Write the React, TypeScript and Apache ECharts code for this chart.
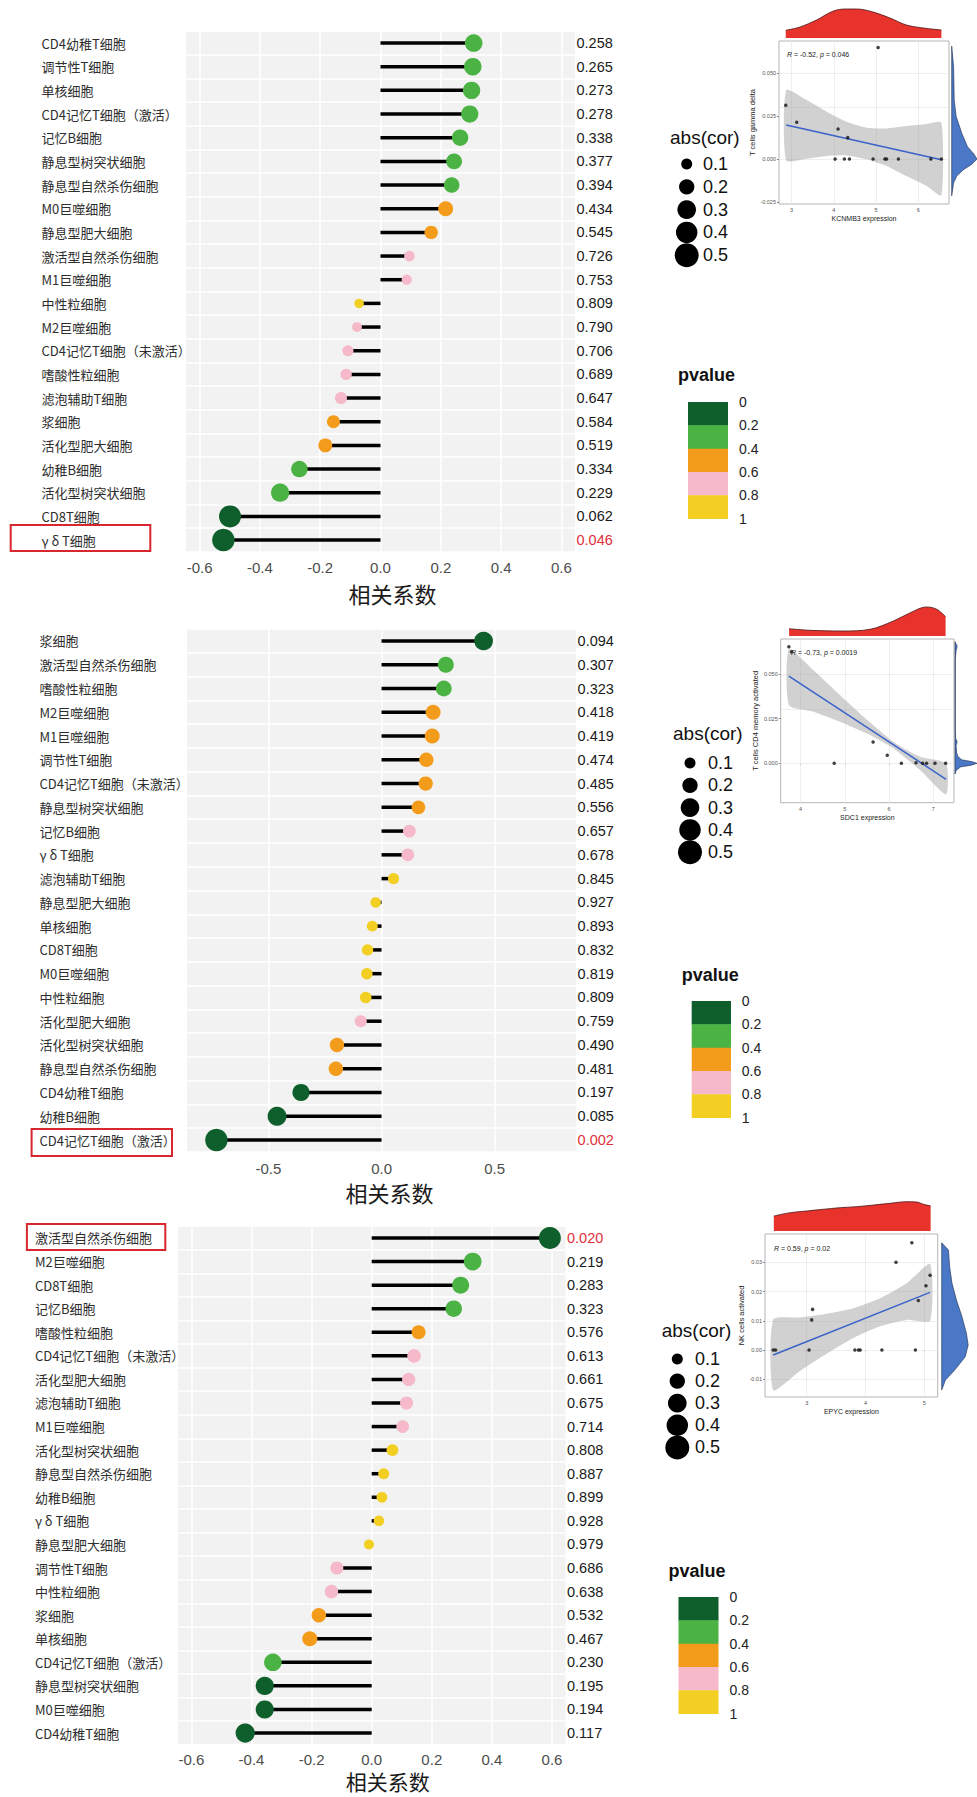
import React, { useEffect, useRef } from "react";
import * as echarts from "echarts";

// ---------------- DATA ----------------
// Panel 1 (KCNMB3)
const P1_CELLS = ["CD4幼稚T细胞", "调节性T细胞", "单核细胞", "CD4记忆T细胞（激活）", "记忆B细胞", "静息型树突状细胞", "静息型自然杀伤细胞", "M0巨噬细胞", "静息型肥大细胞", "激活型自然杀伤细胞", "M1巨噬细胞", "中性粒细胞", "M2巨噬细胞", "CD4记忆T细胞（未激活）", "嗜酸性粒细胞", "滤泡辅助T细胞", "浆细胞", "活化型肥大细胞", "幼稚B细胞", "活化型树突状细胞", "CD8T细胞", "γ δ T细胞"];
const P1_COR = [0.309, 0.306, 0.302, 0.296, 0.264, 0.244, 0.236, 0.216, 0.168, 0.096, 0.087, -0.071, -0.078, -0.108, -0.114, -0.131, -0.156, -0.183, -0.269, -0.333, -0.499, -0.521];
const P1_P = [0.258, 0.265, 0.273, 0.278, 0.338, 0.377, 0.394, 0.434, 0.545, 0.726, 0.753, 0.809, 0.790, 0.706, 0.689, 0.647, 0.584, 0.519, 0.334, 0.229, 0.062, 0.046];
const P1_HIGHLIGHT = "γ δ T细胞";

// Panel 2 (SDC1)
const P2_CELLS = ["浆细胞", "激活型自然杀伤细胞", "嗜酸性粒细胞", "M2巨噬细胞", "M1巨噬细胞", "调节性T细胞", "CD4记忆T细胞（未激活）", "静息型树突状细胞", "记忆B细胞", "γ δ T细胞", "滤泡辅助T细胞", "静息型肥大细胞", "单核细胞", "CD8T细胞", "M0巨噬细胞", "中性粒细胞", "活化型肥大细胞", "活化型树突状细胞", "静息型自然杀伤细胞", "CD4幼稚T细胞", "幼稚B细胞", "CD4记忆T细胞（激活）"];
const P2_COR = [0.451, 0.284, 0.275, 0.228, 0.224, 0.198, 0.195, 0.163, 0.123, 0.116, 0.053, -0.026, -0.041, -0.062, -0.065, -0.070, -0.092, -0.197, -0.202, -0.356, -0.462, -0.73];
const P2_P = [0.094, 0.307, 0.323, 0.418, 0.419, 0.474, 0.485, 0.556, 0.657, 0.678, 0.845, 0.927, 0.893, 0.832, 0.819, 0.809, 0.759, 0.490, 0.481, 0.197, 0.085, 0.002];
const P2_HIGHLIGHT = "CD4记忆T细胞（激活）";

// Panel 3 (EPYC)
const P3_CELLS = ["激活型自然杀伤细胞", "M2巨噬细胞", "CD8T细胞", "记忆B细胞", "嗜酸性粒细胞", "CD4记忆T细胞（未激活）", "活化型肥大细胞", "滤泡辅助T细胞", "M1巨噬细胞", "活化型树突状细胞", "静息型自然杀伤细胞", "幼稚B细胞", "γ δ T细胞", "静息型肥大细胞", "调节性T细胞", "中性粒细胞", "浆细胞", "单核细胞", "CD4记忆T细胞（激活）", "静息型树突状细胞", "M0巨噬细胞", "CD4幼稚T细胞"];
const P3_COR = [0.593, 0.336, 0.296, 0.273, 0.156, 0.141, 0.123, 0.116, 0.103, 0.069, 0.040, 0.034, 0.024, -0.009, -0.116, -0.134, -0.176, -0.206, -0.329, -0.356, -0.356, -0.421];
const P3_P = [0.020, 0.219, 0.283, 0.323, 0.576, 0.613, 0.661, 0.675, 0.714, 0.808, 0.887, 0.899, 0.928, 0.979, 0.686, 0.638, 0.532, 0.467, 0.230, 0.195, 0.194, 0.117];
const P3_HIGHLIGHT = "激活型自然杀伤细胞";

const TICKS_06 = [-0.6, -0.4, -0.2, 0, 0.2, 0.4, 0.6];
const TICKS_05 = [-0.5, 0, 0.5];

// Inset 1: KCNMB3 vs T cells gamma delta
const I1_X = [2.86, 3.12, 4.03, 4.10, 4.25, 4.37, 4.33, 4.93, 5.21, 5.25, 5.53, 6.30, 6.55, 5.05];
const I1_Y = [0.0314, 0.0215, 0, 0.0176, 0, 0, 0.0125, 0, 0, 0, 0, 0, 0, 0.0652];
const I1_FIT_X = [2.87, 6.55];
const I1_FIT_Y = [0.0199, -0.0004];
const I1_BAND_X = [2.87, 3.355, 3.83, 4.30, 4.78, 5.25, 5.72, 6.20, 6.55];
const I1_BAND_LO = [-0.0008, 0.0002, 0.0018, 0.0021, -0.0002, -0.0041, -0.0100, -0.0158, -0.0213];
const I1_BAND_HI = [0.0404, 0.0345, 0.0277, 0.0218, 0.0183, 0.0179, 0.0193, 0.0205, 0.0213];
const I1_TOP_X = [2.86, 3.2, 3.59, 3.99, 4.30, 4.54, 4.93, 5.33, 5.72, 6.12, 6.55];
const I1_TOP_D = [7.7, 11, 18, 27, 29, 29, 26, 20, 13, 10, 8];
const I1_SIDE_Y = [0.066, 0.060, 0.054, 0.045, 0.0345, 0.025, 0.015, 0.0072, 0.003, 0, -0.003, -0.0064, -0.010, -0.014, -0.0215];
const I1_SIDE_D = [0, 1.5, 3, 3.5, 4, 7, 16, 25, 35, 40, 32, 18, 8, 3, 0];
const I1_XTICKS = [3, 4, 5, 6];
const I1_YTICKS = [-0.025, 0, 0.025, 0.05];

// Inset 2: SDC1 vs T cells CD4 memory activated
const I2_X = [3.735, 3.796, 4.76, 5.64, 5.96, 6.28, 6.61, 6.76, 6.85, 7.04, 7.28];
const I2_Y = [0.0652, 0.0624, 0, 0.0119, 0.0045, 0, 0.0003, 0, 0, 0, 0];
const I2_FIT_X = [3.735, 7.29];
const I2_FIT_Y = [0.0488, -0.0089];
const I2_BAND_X = [3.735, 4.286, 4.89, 5.49, 6.095, 6.70, 7.29];
const I2_BAND_LO = [0.0326, 0.0289, 0.0233, 0.0168, 0.0084, -0.0037, -0.0173];
const I2_BAND_HI = [0.0638, 0.0522, 0.0382, 0.0246, 0.0121, 0.0037, 0.0000];
const I2_TOP_X = [3.74, 4.21, 4.96, 5.57, 6.10, 6.47, 6.85, 7.08, 7.28];
const I2_TOP_D = [7.3, 5.7, 5, 6.7, 15, 23, 29, 26.7, 19.3];
const I2_SIDE_Y = [0.068, 0.0655, 0.063, 0.058, 0.04, 0.02, 0.014, 0.012, 0.010, 0.006, 0.004, 0.002, 0.001, 0, -0.001, -0.002, -0.004, -0.006];
const I2_SIDE_D = [0, 4, 2, 0.5, 0.5, 0.5, 1, 4, 2, 3, 5, 12, 30, 40, 30, 10, 2, 0];
const I2_XTICKS = [4, 5, 6, 7];
const I2_YTICKS = [0, 0.025, 0.05];

// Inset 3: EPYC vs NK cells activated
const I3_X = [2.43, 2.47, 3.04, 3.085, 3.10, 3.82, 3.88, 3.91, 4.28, 4.52, 4.79, 4.85, 4.90, 5.03, 5.10];
const I3_Y = [0, 0, 0, 0.0103, 0.0139, 0, 0, 0, 0, 0.030, 0.0367, 0, 0.0169, 0.022, 0.0256];
const I3_FIT_X = [2.43, 5.10];
const I3_FIT_Y = [-0.0017, 0.0197];
const I3_BAND_X = [2.43, 2.886, 3.34, 3.795, 4.25, 4.70, 5.10];
const I3_BAND_LO = [-0.0138, -0.0072, -0.0013, 0.0041, 0.0081, 0.0103, 0.0100];
const I3_BAND_HI = [0.0104, 0.0111, 0.0124, 0.0143, 0.0177, 0.0228, 0.0294];
const I3_TOP_X = [2.44, 2.72, 3.0, 3.28, 3.57, 3.85, 4.14, 4.42, 4.70, 4.87, 4.99, 5.11];
const I3_TOP_D = [15, 18.3, 20, 21.7, 23.3, 24.3, 26, 27.7, 29.3, 29, 26.7, 25];
const I3_SIDE_Y = [0.0367, 0.0342, 0.0285, 0.0228, 0.0171, 0.0114, 0.0057, 0.0017, -0.0023, -0.0068, -0.0103, -0.0137];
const I3_SIDE_D = [0, 7.7, 9, 11.7, 16.7, 23, 28, 30, 26.7, 15, 4.3, 0];
const I3_XTICKS = [3, 4, 5];
const I3_YTICKS = [-0.01, 0, 0.01, 0.02, 0.03];

const SIZE_LEGEND_VALUES = [0.1, 0.2, 0.3, 0.4, 0.5];
const PVALUE_BREAKS = [0, 0.2, 0.4, 0.6, 0.8, 1];

// ---------------- STYLE ----------------
const FONT_SANS = '"Liberation Sans", Arial, Helvetica, sans-serif';
const FONT_CJK = '"Noto Sans CJK SC", "Noto Sans", sans-serif';
const P_COLORS = ["#0e5f2c", "#4bb343", "#f39c1c", "#f5b9c9", "#f2cf22"];
const pColor = (p: number) => P_COLORS[Math.min(4, Math.floor(p / 0.2))];

function buildOption() {
  const grids: any[] = [];
  const xAxes: any[] = [];
  const yAxes: any[] = [];
  const series: any[] = [];
  const graphic: any[] = [];

  const addLolli = (c: any) => {
    const gi = grids.length;
    grids.push({ left: c.left, top: c.top, width: c.width, height: c.height, show: true, backgroundColor: "#f2f2f2", borderWidth: 0 });
    const xi = xAxes.length;
    xAxes.push({
      type: "value", gridIndex: gi, min: c.xMin, max: c.xMax,
      axisLine: { show: false }, axisTick: { show: false }, splitLine: { show: false },
      axisLabel: { customValues: c.ticks, formatter: (v: number) => v.toFixed(1), fontSize: 15, color: "#4d4d4d", fontFamily: FONT_SANS, margin: c.tickMargin },
      name: "相关系数", nameLocation: "middle", nameGap: c.nameGap,
      nameTextStyle: { fontSize: c.nameSize, color: "#1a1a1a", fontFamily: FONT_CJK, padding: [0, 0, 0, c.nameShift * 2] },
    });
    const yi = yAxes.length;
    const hi = c.cells.indexOf(c.highlight);
    yAxes.push({
      type: "category", gridIndex: gi, data: c.cells, inverse: true, position: "left",
      axisLine: { show: false }, axisTick: { show: false },
      splitLine: { show: true, lineStyle: { color: "#ffffff", width: 1.5 } },
      axisLabel: { interval: 0, align: "left", margin: c.labelMargin, fontSize: 13, color: "#2e2e2e", fontFamily: FONT_CJK },
    });
    yAxes.push({
      type: "category", gridIndex: gi, data: c.p.map((v: number) => v.toFixed(3)), inverse: true, position: "right",
      axisLine: { show: false }, axisTick: { show: false }, splitLine: { show: false },
      axisLabel: {
        interval: 0, align: "left", margin: 1.5, fontSize: 14.5, color: "#1a1a1a", fontFamily: FONT_SANS,
        formatter: (v: string, i: number) => (i === hi ? `{r|${v}}` : v),
        rich: { r: { color: "#e0303a", fontSize: 14.5, fontFamily: FONT_SANS } },
      },
    });
    const abs = c.cor.map((v: number) => Math.abs(v));
    const maxA = Math.max(...abs);
    const minA = Math.min(...abs);
    const size = (v: number) => Math.sqrt(c.dMin * c.dMin + (c.dMax * c.dMax - c.dMin * c.dMin) * (Math.abs(v) - minA) / (maxA - minA));
    series.push({
      type: "bar", xAxisIndex: xi, yAxisIndex: yi, data: c.cor, barWidth: 3.5, itemStyle: { color: "#000" }, z: 2, silent: true,
      markLine: { silent: true, z: 1, symbol: ["none", "none"], label: { show: false }, lineStyle: { color: "#ffffff", width: 1.5, type: "solid" }, data: c.ticks.map((t: number) => ({ xAxis: t })) },
    });
    series.push({
      type: "scatter", xAxisIndex: xi, yAxisIndex: yi, z: 3, silent: true,
      data: c.cor.map((v: number, i: number) => ({ value: [v, i], symbolSize: size(v), itemStyle: { color: pColor(c.p[i]), opacity: 1 } })),
    });
    graphic.push({ type: "rect", z: 10, shape: c.box, style: { fill: "transparent", stroke: "#d8262f", lineWidth: 2 } });
  };

  const addInset = (c: any) => {
    const gi = grids.length;
    grids.push({ left: c.left, top: c.top, width: c.width, height: c.height, show: true, backgroundColor: "#ffffff", borderColor: "#b5b5b5", borderWidth: 1 });
    const xi = xAxes.length;
    xAxes.push({
      type: "value", gridIndex: gi, min: c.xMin, max: c.xMax,
      axisLine: { show: false }, splitLine: { show: false },
      axisTick: { show: true, customValues: c.xTicks, length: 2, lineStyle: { color: "#444", width: 0.6 } },
      axisLabel: { customValues: c.xTicks, formatter: (v: number) => String(v), fontSize: 5.5, color: "#555", margin: 3, fontFamily: FONT_SANS },
      name: c.xName, nameLocation: "middle", nameGap: 11, nameTextStyle: { fontSize: 7, color: "#222", fontFamily: FONT_SANS },
    });
    const yi = yAxes.length;
    yAxes.push({
      type: "value", gridIndex: gi, min: c.yMin, max: c.yMax,
      axisLine: { show: false }, splitLine: { show: false },
      axisTick: { show: true, customValues: c.yTicks, length: 2, lineStyle: { color: "#444", width: 0.6 } },
      axisLabel: { customValues: c.yTicks, formatter: (v: number) => v.toFixed(c.yDec), fontSize: 5.5, color: "#555", margin: 3, fontFamily: FONT_SANS },
      name: c.yName, nameLocation: "middle", nameGap: c.yNameGap, nameTextStyle: { fontSize: 7.5, color: "#222", fontFamily: FONT_SANS },
    });
    const bx = c.bandX, lo = c.bandLo, hiB = c.bandHi;
    series.push({
      type: "custom", xAxisIndex: xi, yAxisIndex: yi, z: 2, silent: true,
      data: bx.map((x: number, i: number) => [x, lo[i], hiB[i]]),
      renderItem: (params: any, api: any) => {
        if (params.dataIndex !== 0) return { type: "group", children: [] };
        const pts: number[][] = [];
        for (let i = 0; i < bx.length; i++) pts.push(api.coord([bx[i], hiB[i]]));
        for (let i = bx.length - 1; i >= 0; i--) pts.push(api.coord([bx[i], lo[i]]));
        return { type: "polygon", shape: { points: pts, smooth: 0.2 }, style: { fill: "#9a9a9a", opacity: 0.45 } };
      },
    });
    series.push({
      type: "line", xAxisIndex: xi, yAxisIndex: yi, z: 3, silent: true, symbol: "none",
      data: c.fitX.map((x: number, i: number) => [x, c.fitY[i]]),
      lineStyle: { color: "#3a62c9", width: 1.5 },
      markLine: {
        silent: true, z: 1, symbol: ["none", "none"], label: { show: false },
        lineStyle: { color: "#e6e6e6", width: 0.7, type: "solid" },
        data: [...c.xTicks.map((t: number) => ({ xAxis: t })), ...c.yTicks.map((t: number) => ({ yAxis: t }))],
      },
    });
    series.push({
      type: "scatter", xAxisIndex: xi, yAxisIndex: yi, z: 4, silent: true, symbolSize: 3.5,
      itemStyle: { color: "#111" },
      data: c.x.map((x: number, i: number) => [x, c.y[i]]),
    });
    graphic.push({
      type: "text", x: c.annX, y: c.annY, z: 10,
      style: { text: c.ann, rich: { i: { fontStyle: "italic", fontSize: 7, fontFamily: FONT_SANS, fill: "#222" } }, fontSize: 7, fontFamily: FONT_SANS, fill: "#222", verticalAlign: "middle", align: "left" },
    });

    const gt = grids.length;
    grids.push({ left: c.left, top: c.top - 33, width: c.width, height: 30 });
    const xt = xAxes.length;
    xAxes.push({ type: "value", gridIndex: gt, min: c.xMin, max: c.xMax, show: false });
    const yt = yAxes.length;
    yAxes.push({ type: "value", gridIndex: gt, min: 0, max: 30, show: false });
    series.push({
      type: "line", xAxisIndex: xt, yAxisIndex: yt, silent: true, symbol: "none", smooth: 0.35,
      data: c.topX.map((x: number, i: number) => [x, c.topD[i]]),
      lineStyle: { color: "#4a1414", width: 0.8 },
      areaStyle: { color: "#e8332d", opacity: 1 },
    });

    const gs = grids.length;
    grids.push({ left: c.sideLeft, top: c.top, width: 40, height: c.height });
    const xs = xAxes.length;
    xAxes.push({ type: "value", gridIndex: gs, min: 0, max: 40, show: false });
    const ys = yAxes.length;
    yAxes.push({ type: "value", gridIndex: gs, min: c.yMin, max: c.yMax, show: false });
    const sy = c.sideY, sd = c.sideD;
    series.push({
      type: "custom", xAxisIndex: xs, yAxisIndex: ys, silent: true, clip: false,
      data: sy.map((y: number, i: number) => [sd[i], y]),
      renderItem: (params: any, api: any) => {
        if (params.dataIndex !== 0) return { type: "group", children: [] };
        const pts: number[][] = [api.coord([0, sy[0]])];
        for (let i = 0; i < sy.length; i++) pts.push(api.coord([sd[i], sy[i]]));
        pts.push(api.coord([0, sy[sy.length - 1]]));
        return { type: "polygon", shape: { points: pts }, style: { fill: "#4a78c6", stroke: "#1d2d4d", lineWidth: 0.6 } };
      },
    });
  };

  const addLegend = (L: any) => {
    graphic.push({ type: "text", x: L.absX, y: L.absY, style: { text: "abs(cor)", fontSize: 19, fontFamily: FONT_SANS, fill: "#111", verticalAlign: "middle", align: "left" } });
    SIZE_LEGEND_VALUES.forEach((v, i) => {
      const d = Math.sqrt(7.25 + 1137.5 * v);
      const cy = L.circY0 + i * L.circDy;
      graphic.push({ type: "circle", shape: { cx: L.circX, cy, r: d / 2 }, style: { fill: "#000" } });
      graphic.push({ type: "text", x: L.labX, y: cy, style: { text: String(v), fontSize: 18, fontFamily: FONT_SANS, fill: "#111", verticalAlign: "middle", align: "left" } });
    });
    graphic.push({ type: "text", x: L.pvX, y: L.pvY, style: { text: "pvalue", fontSize: 18, fontWeight: "bold", fontFamily: FONT_SANS, fill: "#111", verticalAlign: "middle", align: "left" } });
    P_COLORS.forEach((col, i) => {
      graphic.push({ type: "rect", shape: { x: L.barX, y: L.barY + i * L.barH, width: L.barW, height: L.barH + 0.3 }, style: { fill: col } });
    });
    PVALUE_BREAKS.forEach((b, i) => {
      graphic.push({ type: "text", x: L.barLabX, y: L.barY + i * L.barH, style: { text: String(b), fontSize: 14, fontFamily: FONT_SANS, fill: "#222", verticalAlign: "middle", align: "left" } });
    });
  };

  addLolli({
    cells: P1_CELLS, cor: P1_COR, p: P1_P, highlight: P1_HIGHLIGHT, ticks: TICKS_06, xMin: -0.645, xMax: 0.645,
    left: 186, top: 31.2, width: 389, height: 520.7, labelMargin: 144.5, tickMargin: 8.5, nameGap: 30, nameSize: 22, nameShift: 12, dMin: 9.5, dMax: 22.5,
    box: { x: 10.7, y: 525, width: 139.6, height: 26 },
  });
  addLolli({
    cells: P2_CELLS, cor: P2_COR, p: P2_P, highlight: P2_HIGHLIGHT, ticks: TICKS_05, xMin: -0.86, xMax: 0.86,
    left: 187, top: 629.1, width: 389.1, height: 522.8, labelMargin: 147.5, tickMargin: 9, nameGap: 29, nameSize: 22, nameShift: 8, dMin: 10.5, dMax: 22.5,
    box: { x: 31.6, y: 1129, width: 140.4, height: 27 },
  });
  addLolli({
    cells: P3_CELLS, cor: P3_COR, p: P3_P, highlight: P3_HIGHLIGHT, ticks: TICKS_06, xMin: -0.645, xMax: 0.645,
    left: 177.9, top: 1226.2, width: 387.6, height: 518.6, labelMargin: 143, tickMargin: 7.5, nameGap: 26, nameSize: 21, nameShift: 16, dMin: 10, dMax: 22,
    box: { x: 26.9, y: 1224, width: 138.4, height: 26 },
  });

  addInset({
    left: 779, top: 41, width: 170, height: 163, sideLeft: 951.7,
    xMin: 2.70, xMax: 6.73, yMin: -0.0263, yMax: 0.069, xTicks: I1_XTICKS, yTicks: I1_YTICKS, yDec: 3,
    xName: "KCNMB3 expression", yName: "T cells gamma delta", yNameGap: 21,
    x: I1_X, y: I1_Y, fitX: I1_FIT_X, fitY: I1_FIT_Y, bandX: I1_BAND_X, bandLo: I1_BAND_LO, bandHi: I1_BAND_HI,
    topX: I1_TOP_X, topD: I1_TOP_D, sideY: I1_SIDE_Y, sideD: I1_SIDE_D,
    ann: "{i|R} = -0.52, {i|p} = 0.046", annX: 787, annY: 54,
  });
  addInset({
    left: 780.7, top: 639, width: 173.3, height: 163.7, sideLeft: 955,
    xMin: 3.55, xMax: 7.47, yMin: -0.022, yMax: 0.0695, xTicks: I2_XTICKS, yTicks: I2_YTICKS, yDec: 3,
    xName: "SDC1 expression", yName: "T cells CD4 memory activated", yNameGap: 21,
    x: I2_X, y: I2_Y, fitX: I2_FIT_X, fitY: I2_FIT_Y, bandX: I2_BAND_X, bandLo: I2_BAND_LO, bandHi: I2_BAND_HI,
    topX: I2_TOP_X, topD: I2_TOP_D, sideY: I2_SIDE_Y, sideD: I2_SIDE_D,
    ann: "{i|R} = -0.73, {i|p} = 0.0019", annX: 791, annY: 652,
  });
  addInset({
    left: 765, top: 1234, width: 172.7, height: 163, sideLeft: 941.7,
    xMin: 2.29, xMax: 5.23, yMin: -0.0161, yMax: 0.0397, xTicks: I3_XTICKS, yTicks: I3_YTICKS, yDec: 2,
    xName: "EPYC expression", yName: "NK cells activated", yNameGap: 19,
    x: I3_X, y: I3_Y, fitX: I3_FIT_X, fitY: I3_FIT_Y, bandX: I3_BAND_X, bandLo: I3_BAND_LO, bandHi: I3_BAND_HI,
    topX: I3_TOP_X, topD: I3_TOP_D, sideY: I3_SIDE_Y, sideD: I3_SIDE_D,
    ann: "{i|R} = 0.59, {i|p} = 0.02", annX: 774, annY: 1248,
  });

  addLegend({ absX: 670, absY: 137, circX: 686.7, circY0: 164, circDy: 22.8, labX: 703, pvX: 678, pvY: 375, barX: 688, barY: 402, barW: 40, barH: 23.33, barLabX: 739 });
  addLegend({ absX: 673, absY: 733, circX: 690, circY0: 763, circDy: 22.3, labX: 708, pvX: 681.7, pvY: 975, barX: 691.7, barY: 1001, barW: 39.3, barH: 23.33, barLabX: 741.7 });
  addLegend({ absX: 661.7, absY: 1330, circX: 677.3, circY0: 1359, circDy: 22.1, labX: 695, pvX: 668.5, pvY: 1571, barX: 678.5, barY: 1597, barW: 40, barH: 23.33, barLabX: 729.5 });

  return {
    animation: false,
    backgroundColor: "#ffffff",
    grid: grids,
    xAxis: xAxes,
    yAxis: yAxes,
    series,
    graphic: { elements: graphic },
  };
}

export default function App() {
  const ref = useRef<HTMLDivElement>(null);
  useEffect(() => {
    if (!ref.current) return;
    const chart = echarts.init(ref.current, undefined, { renderer: "svg" });
    chart.setOption(buildOption() as any);
    return () => chart.dispose();
  }, []);
  return <div ref={ref} style={{ position: "absolute", left: 0, top: 0, width: 977, height: 1797 }} />;
}
